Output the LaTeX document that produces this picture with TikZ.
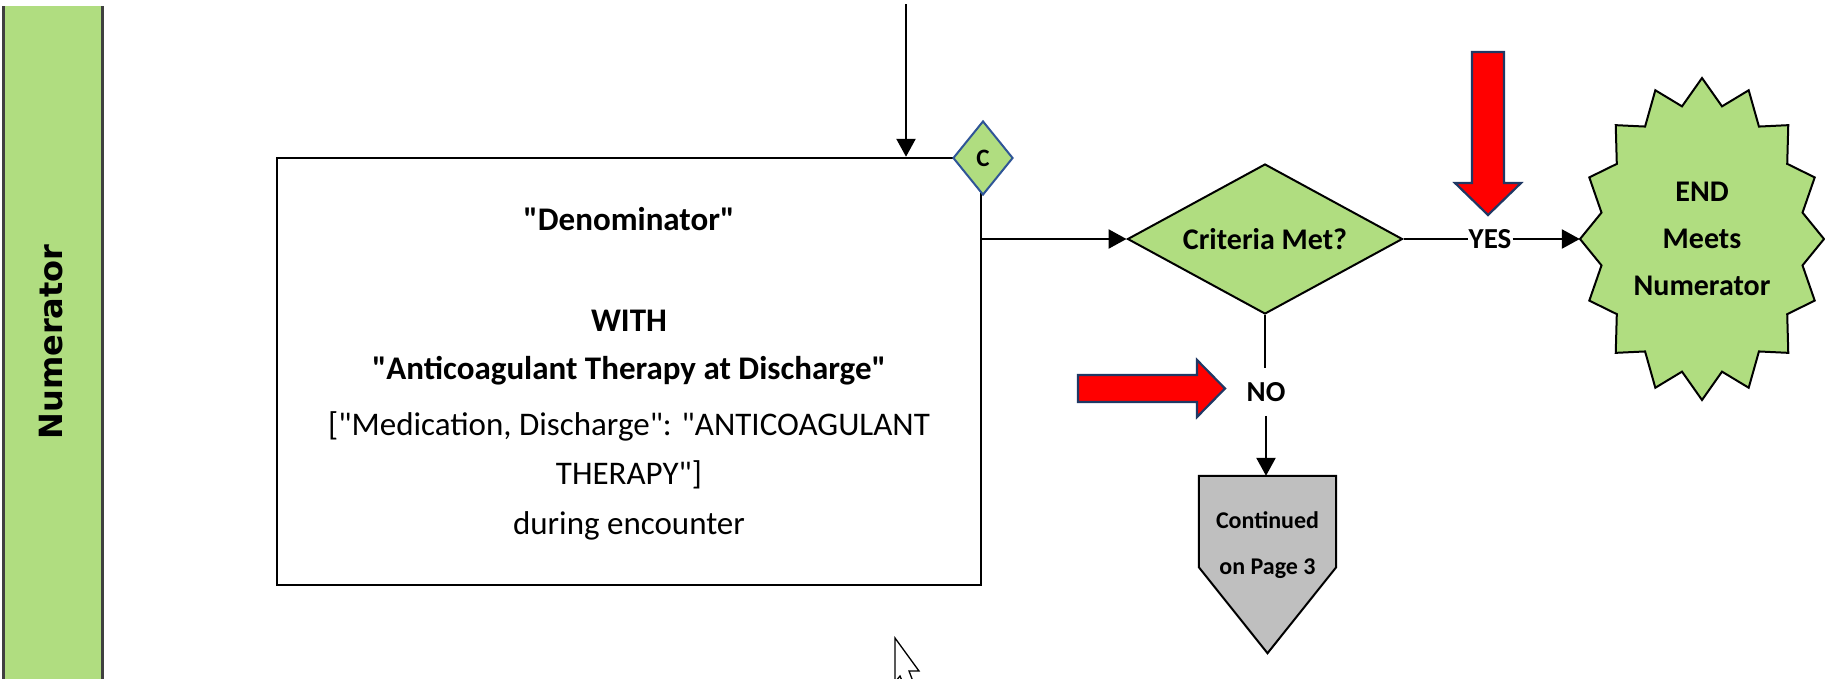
\documentclass[tikz,border=0pt]{standalone}
\usepackage{fontspec}
\setmainfont{Carlito}[Ligatures=TeXOff]
\newfontfamily\lanefont{DejaVu Sans}
\usetikzlibrary{arrows.meta,shapes.geometric,calc}

\definecolor{lanegreen}{RGB}{176,221,128}
\definecolor{lanegray}{RGB}{64,64,64}
\definecolor{conngray}{RGB}{191,191,191}
\definecolor{navyedge}{RGB}{31,56,100}
\definecolor{markblue}{RGB}{47,85,151}
\definecolor{alertred}{RGB}{255,0,0}

\tikzset{
  conn/.style={draw=black, line width=2.5pt},
  arr/.style={conn, -{Triangle[length=18pt,width=19pt]}},
  boldline/.style={inner sep=0pt, anchor=base, font=\bfseries\fontsize{33}{33}\selectfont},
  plainline/.style={inner sep=0pt, anchor=base, font=\fontsize{33}{33}\selectfont},
  branchlbl/.style={inner sep=3pt, font=\bfseries\fontsize{29}{29}\selectfont},
  decision/.style={diamond, draw=black, fill=lanegreen, line width=2pt, inner sep=0pt},
  redarrow/.style={fill=alertred, draw=navyedge, line width=2.2pt, line join=miter},
}

\begin{document}
\begin{tikzpicture}[x=1pt,y=-1pt]
\useasboundingbox (0,0) rectangle (1825,678);
\clip (0,0) rectangle (1825,678);

% swim lane header
\fill[lanegreen] (3,6) rectangle (102,700);
\draw[lanegray, line width=3pt] (3,6) -- (3,700) (102,6) -- (102,700);
\node[rotate=90, inner sep=0pt, font=\lanefont\bfseries\fontsize{32}{32}\selectfont] (lanelabel) at (51,342) {Numerator};

% main process box
\node[draw=black, line width=2.5pt, minimum width=704pt, minimum height=427pt, inner sep=0pt] (denombox) at (629,371.5) {};
\node[boldline]  (ln1) at (629,230) {"Denominator"};
\node[boldline]  (ln2) at (629,331) {WITH};
\node[boldline]  (ln3) at (629,379) {"Anticoagulant Therapy at Discharge"};
\node[plainline] (ln4) at (629,435) {["Medication, Discharge": "ANTICOAGULANT};
\node[plainline] (ln5) at (629,484) {THERAPY"]};
\node[plainline] (ln6) at (629,534) {during encounter};

% incoming flow from above
\coordinate (topin) at (906,4);
\draw[arr] (topin) -- (denombox.north -| topin);

% on-page connector marker
\node[diamond, draw=markblue, fill=lanegreen, line width=2pt, minimum width=60pt, minimum height=74pt, inner sep=0pt,
      font=\bfseries\fontsize{25}{25}\selectfont] (cmark) at (983,158) {C};

% decision
\node[decision, shape aspect=1.83, minimum width=275pt, minimum height=150pt,
      font=\bfseries\fontsize{30}{30}\selectfont] (crit) at (1265,239) {Criteria Met?};
\draw[arr] (denombox.east |- crit.west) -- (crit.west);

% end terminator (16-point star)
\filldraw[fill=lanegreen, draw=black, line width=2pt, line join=miter]
  (1702-122,239) \foreach \k in {1,...,31}{
    -- ({1702+122*(1-0.16*mod(\k,2))*cos(180-\k*11.25)}, {239+161*(1-0.16*mod(\k,2))*sin(180-\k*11.25)})
  } -- cycle;
\node[minimum width=244pt, minimum height=322pt, inner sep=0pt, align=center,
      font=\bfseries\fontsize{30}{47}\selectfont] (endstar) at (1702,239) {END\\Meets\\Numerator};

% YES branch
\node[branchlbl, inner xsep=1pt] (yes) at (1490,239) {YES};
\draw[conn] (crit.east) -- (yes.west);
\draw[arr] (yes.east) -- (endstar.west);

% NO branch and off-page connector
\node[branchlbl, inner ysep=14pt] (no) at (1266,392) {NO};
\node[minimum width=137pt, minimum height=91pt, inner sep=0pt] (cont) at (1267.5,521.5) {};
\filldraw[fill=conngray, draw=black, line width=2pt, line join=miter]
  (cont.north west) -- (cont.north east) -- (cont.south east)
  -- ($(cont.south)+(0,86)$) -- (cont.south west) -- cycle;
\node[inner sep=0pt, align=center, font=\bfseries\fontsize{24}{46}\selectfont] (conttext) at (1267.5,545) {Continued\\on Page 3};
\draw[conn] (crit.south) -- (no.north -| crit.south);
\draw[arr] (no.south) -- (no.south |- cont.north);

% highlight arrows
\filldraw[redarrow] (1472,52) -- (1504,52) -- (1504,183) -- (1521,183) -- (1488,215)
  -- (1455,183) -- (1472,183) -- cycle;
\filldraw[redarrow] (1078,375) -- (1197,375) -- (1197,360) -- (1225,388.5) -- (1197,417)
  -- (1197,402) -- (1078,402) -- cycle;

% mouse pointer
\filldraw[fill=white, draw=black, line width=1.3pt, line join=miter]
  (895,638) -- (919,671) -- (909,671) -- (914,684) -- (905,688) -- (900,676) -- (895,682) -- cycle;
\end{tikzpicture}
\end{document}
